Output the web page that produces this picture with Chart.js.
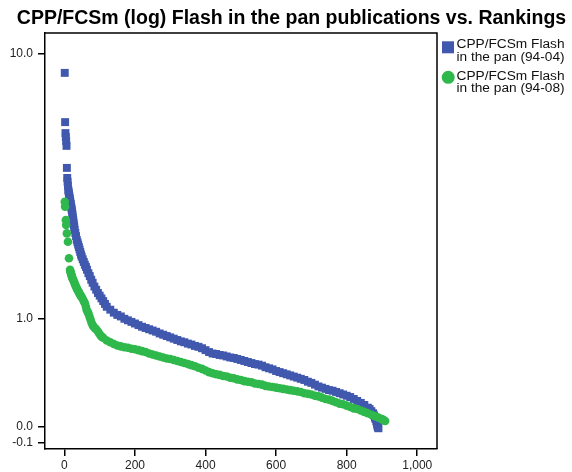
<!DOCTYPE html>
<html>
<head>
<meta charset="utf-8">
<script src="https://cdn.jsdelivr.net/npm/chart.js@4/dist/chart.umd.min.js"></script>
<style>
  html, body { margin: 0; padding: 0; background: #fff; }
  #wrap { width: 572px; height: 472px; }
</style>
</head>
<body>
<div id="wrap"><canvas id="chart" width="572" height="472"></canvas></div>
<script>
/* ── Data ── */
const TITLE = 'CPP/FCSm (log) Flash in the pan publications vs. Rankings';
const SERIES_NAMES = [['CPP/FCSm Flash', 'in the pan (94-04)'], ['CPP/FCSm Flash', 'in the pan (94-08)']];

const blueRanks = [
  1, 2, 3, 4, 5, 6, 7, 8, 9, 10, 11, 12, 13, 14, 15, 16, 17, 18, 19, 20,
  21, 22, 23, 24, 25, 26, 27, 28, 29, 31, 33, 35, 37, 39, 41, 43, 45, 47, 49,
  52, 55, 58, 61, 64, 68, 72, 76, 80, 85, 90, 95, 100, 105, 110, 115, 120,
  130, 140, 150, 160, 170, 180, 190, 200, 210, 220, 230, 240, 250, 260, 270, 280, 290, 300,
  310, 320, 330, 340, 350, 360, 370, 380, 390, 400, 410, 420, 430, 440, 450, 460, 470, 480,
  490, 500, 510, 520, 530, 540, 550, 560, 570, 580, 590, 600, 610, 620, 630, 640, 650, 660,
  670, 680, 690, 700, 710, 720, 730, 740, 750, 760, 770, 780, 790, 800, 810, 820, 830, 840,
  850, 860, 865, 870, 875, 878, 880, 882, 884, 886, 887, 888, 889, 890
];
const blueValues = [
  8.7, 6.07, 5.59, 5.43, 5.26, 5.07, 4.27, 3.94, 3.82, 3.70, 3.57, 3.52, 3.46, 3.40, 3.34, 3.29, 3.23, 3.18, 3.12, 3.07,
  3.02, 2.96, 2.90, 2.83, 2.77, 2.71, 2.65, 2.60, 2.54, 2.47, 2.40, 2.32, 2.27, 2.22, 2.17, 2.12, 2.07, 2.02, 1.98,
  1.93, 1.88, 1.83, 1.79, 1.74, 1.68, 1.63, 1.57, 1.52, 1.46, 1.41, 1.36, 1.32, 1.28, 1.24, 1.20, 1.16,
  1.12, 1.08, 1.05, 1.03, 1.00, 0.98, 0.96, 0.94, 0.92, 0.90, 0.885, 0.87, 0.855, 0.84, 0.82, 0.805, 0.79, 0.775,
  0.76, 0.745, 0.73, 0.72, 0.705, 0.695, 0.68, 0.67, 0.655, 0.635, 0.615, 0.60, 0.595, 0.585, 0.58, 0.57, 0.56, 0.555,
  0.545, 0.535, 0.525, 0.515, 0.505, 0.495, 0.49, 0.48, 0.465, 0.455, 0.445, 0.43, 0.42, 0.41, 0.40, 0.39, 0.38, 0.37,
  0.36, 0.35, 0.335, 0.325, 0.31, 0.295, 0.285, 0.275, 0.265, 0.26, 0.25, 0.24, 0.23, 0.22, 0.21, 0.195, 0.18, 0.165,
  0.15, 0.13, 0.12, 0.105, 0.09, 0.075, 0.06, 0.05, 0.035, 0.02, 0.01, 0.0, -0.005, -0.01
];

const greenRanks = [
  1, 2, 4, 5, 7, 10, 13, 16, 17, 18, 19, 20, 21, 22, 23, 25, 27, 29, 31, 33, 35, 37, 39, 41, 43, 45, 47, 49,
  52, 55, 58, 61, 63, 66, 68, 71, 74, 77, 80, 83, 87, 92, 97, 102, 106, 110, 120, 130, 140, 150, 160, 170,
  180, 190, 200, 210, 220, 230, 240, 250, 260, 270, 280, 290, 300, 310, 320, 330, 340, 350, 360, 370, 380,
  390, 400, 410, 420, 430, 440, 450, 460, 470, 480, 490, 500, 510, 520, 530, 540, 550, 560, 570, 580, 590,
  600, 610, 620, 630, 640, 650, 660, 670, 680, 690, 700, 710, 720, 730, 740, 750, 760, 770, 780, 790, 800,
  810, 820, 830, 840, 850, 860, 870, 880, 890, 900, 905, 909
];
const greenValues = [
  3.24, 3.11, 2.77, 2.65, 2.46, 2.28, 1.95, 1.74, 1.71, 1.69, 1.67, 1.65, 1.63, 1.61, 1.59, 1.57, 1.54, 1.51, 1.48, 1.46, 1.43, 1.41, 1.39, 1.37, 1.35, 1.33, 1.31, 1.30,
  1.27, 1.24, 1.21, 1.16, 1.12, 1.09, 1.07, 1.03, 0.99, 0.95, 0.92, 0.90, 0.88, 0.86, 0.83, 0.80, 0.78, 0.77, 0.74, 0.72, 0.70, 0.685, 0.675, 0.665,
  0.66, 0.65, 0.645, 0.635, 0.625, 0.615, 0.60, 0.59, 0.58, 0.57, 0.56, 0.55, 0.545, 0.535, 0.525, 0.515, 0.505, 0.495, 0.485, 0.475, 0.46,
  0.45, 0.435, 0.42, 0.41, 0.40, 0.395, 0.385, 0.38, 0.37, 0.365, 0.355, 0.35, 0.34, 0.335, 0.33, 0.32, 0.315, 0.31, 0.30, 0.295, 0.29,
  0.285, 0.28, 0.275, 0.27, 0.265, 0.26, 0.255, 0.25, 0.24, 0.235, 0.23, 0.22, 0.215, 0.205, 0.195, 0.19, 0.18, 0.17, 0.16, 0.155, 0.145,
  0.135, 0.125, 0.12, 0.11, 0.10, 0.09, 0.08, 0.07, 0.06, 0.05, 0.043, 0.037
];

const xTicks = [0, 200, 400, 600, 800, 1000];
const yTicks = [-0.1, 0.0, 1.0, 10.0];

const BLUE  = '#4058ad';
const GREEN = '#2fb84b';
const FONT  = '"Liberation Sans", Arial, sans-serif';

/* ── Helpers ── */
const toLog = v => Math.log10(v + 1);
const fromLog = t => Math.pow(10, t) - 1;
const points = (ranks, vals) => ranks.map((r, i) => ({ x: r, y: toLog(vals[i]) }));

/* ── Title, frame and legend ── */
const decor = {
  id: 'decor',
  afterDraw(chart) {
    const { ctx, chartArea: a } = chart;
    ctx.save();
    // frame top + right
    ctx.strokeStyle = '#000';
    ctx.lineWidth = 1.5;
    ctx.beginPath();
    ctx.moveTo(a.left, a.top);
    ctx.lineTo(a.right, a.top);
    ctx.lineTo(a.right, a.bottom);
    ctx.stroke();

    // title
    ctx.fillStyle = '#000';
    ctx.font = 'bold 19.5px ' + FONT;
    ctx.textAlign = 'center';
    ctx.textBaseline = 'alphabetic';
    ctx.fillText(TITLE, 291.5, 24);

    // legend
    ctx.font = '13.7px ' + FONT;
    ctx.textAlign = 'left';
    ctx.fillStyle = '#111';
    const lx = 456.5;
    const bases = [48, 79.7];
    SERIES_NAMES.forEach((lines, i) => {
      lines.forEach((ln, j) => ctx.fillText(ln, lx, bases[i] + j * 12.7));
    });
    ctx.fillStyle = BLUE;
    ctx.fillRect(442, 41.3, 12, 12);
    ctx.fillStyle = GREEN;
    ctx.beginPath();
    ctx.arc(448.2, 77.3, 6.5, 0, Math.PI * 2);
    ctx.fill();
    ctx.restore();
  }
};

/* ── Chart ── */
new Chart(document.getElementById('chart'), {
  type: 'scatter',
  data: {
    datasets: [
      {
        label: SERIES_NAMES[0].join(' '),
        data: points(blueRanks, blueValues),
        pointStyle: 'rect',
        pointRadius: 5.6,
        backgroundColor: BLUE,
        borderWidth: 0,
        order: 1,
      },
      {
        label: SERIES_NAMES[1].join(' '),
        data: points(greenRanks, greenValues),
        pointStyle: 'circle',
        pointRadius: 4.3,
        backgroundColor: GREEN,
        borderWidth: 0,
        order: 0,
      },
    ],
  },
  options: {
    responsive: false,
    animation: false,
    layout: { padding: { left: 0, top: 33, right: 135, bottom: 0 } },
    plugins: {
      legend: { display: false },
      title: { display: false },
      tooltip: { enabled: false },
    },
    scales: {
      x: {
        type: 'linear',
        min: -55,
        max: 1056,
        afterBuildTicks: s => { s.ticks = xTicks.map(v => ({ value: v })); },
        afterFit: s => { s.height = 23; },
        grid: { drawOnChartArea: false, drawTicks: true, tickLength: 7, color: '#000', lineWidth: 1.5 },
        border: { display: true, color: '#000', width: 1.5 },
        ticks: {
          padding: 2,
          color: '#222',
          font: { family: FONT, size: 12 },
          maxRotation: 0,
          callback: v => v.toLocaleString('en-US'),
        },
      },
      y: {
        type: 'linear',
        min: -0.0622,
        max: 1.098,
        afterBuildTicks: s => { s.ticks = yTicks.map(v => ({ value: toLog(v) })); },
        afterFit: s => { s.width = 45; },
        grid: { drawOnChartArea: false, drawTicks: true, tickLength: 7, color: '#000', lineWidth: 1.5 },
        border: { display: true, color: '#000', width: 1.5 },
        ticks: {
          padding: 5,
          color: '#222',
          font: { family: FONT, size: 12 },
          callback: v => (Math.round(fromLog(v) * 10) / 10).toFixed(1),
        },
      },
    },
  },
  plugins: [decor],
});
</script>
</body>
</html>
